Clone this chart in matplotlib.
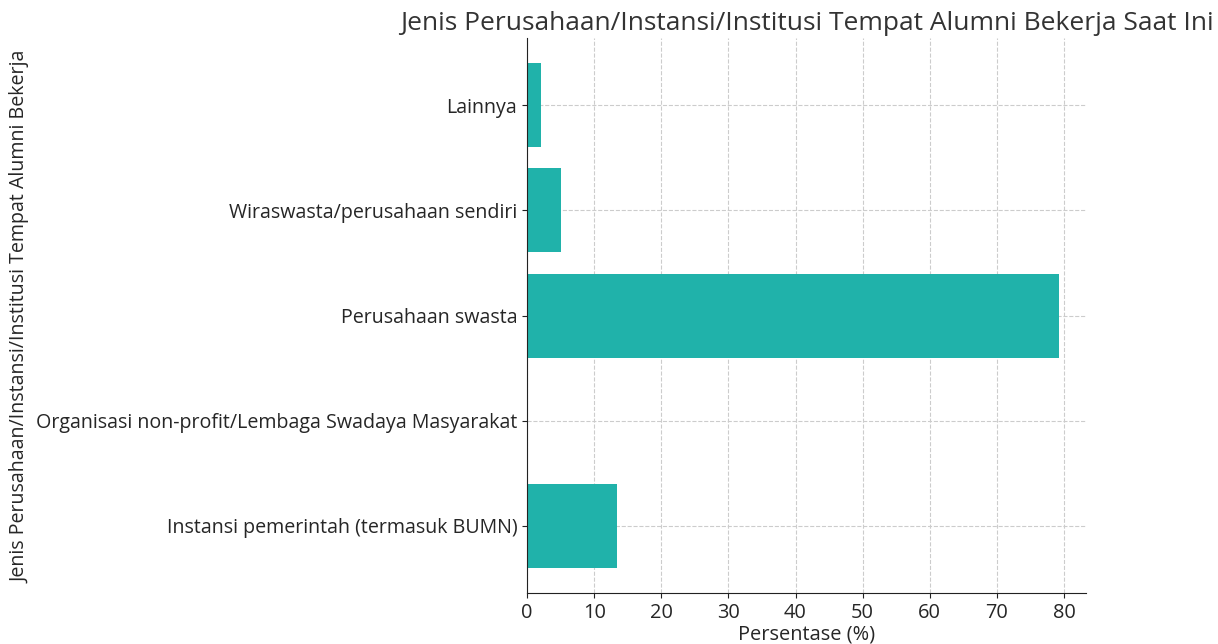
import matplotlib
matplotlib.use("Agg")
from matplotlib import pyplot


categories = [
    "Instansi pemerintah (termasuk BUMN)",
    "Organisasi non-profit/Lembaga Swadaya Masyarakat",
    "Perusahaan swasta",
    "Wiraswasta/perusahaan sendiri",
    "Lainnya",
]
percentages = [13.4, 0.0, 79.3, 5.0, 2.1]

title = "Jenis Perusahaan/Instansi/Institusi Tempat Alumni Bekerja Saat Ini"
ylabel = "Jenis Perusahaan/Instansi/Institusi Tempat Alumni Bekerja"
xlabel = "Persentase (%)"
xticks = [0, 10, 20, 30, 40, 50, 60, 70, 80]


def main():
    pyplot.rcParams["font.family"] = ["Open Sans", "DejaVu Sans"]
    textcolor = "#262626"

    fig = pyplot.figure(figsize=(12.18, 6.44), dpi=100)
    fig.subplots_adjust(left=0.4327, right=0.8916, top=0.941, bottom=0.079)
    ax = fig.add_subplot(1, 1, 1)

    ax.barh(categories, percentages, height=0.8, color="#20B2AA", zorder=2)

    ax.set_xticks(xticks)
    ax.grid(True, linestyle="--", color="#cccccc", linewidth=0.8, zorder=0)
    ax.set_axisbelow(True)
    for side in ("top", "right"):
        ax.spines[side].set_visible(False)
    for side in ("left", "bottom"):
        ax.spines[side].set_color("#222222")

    ax.tick_params("y", labelsize=14.1, labelcolor=textcolor, color="#222222")
    ax.tick_params("x", labelsize=14.4, labelcolor=textcolor, color="#222222")
    ax.set_xlabel(xlabel, fontsize=14.4, color=textcolor, labelpad=1)
    ax.set_ylabel(ylabel, fontsize=14.1, color=textcolor)
    ax.yaxis.set_label_coords(-0.888, 0.497)
    ax.set_title(title, fontsize=19, color="#333333", pad=6)

    fig.savefig("out.png", dpi=100)
    pyplot.close(fig)


if __name__ == "__main__":
    main()
